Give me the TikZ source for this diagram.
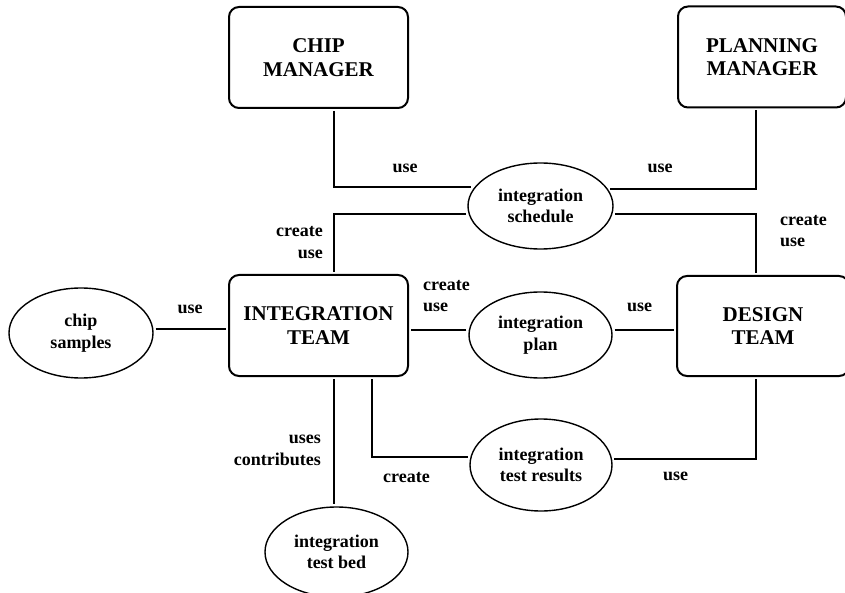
\documentclass[tikz,border=0pt]{standalone}
\usepackage{fontspec}
\setmainfont{Liberation Serif}
\usetikzlibrary{positioning,calc,shapes.geometric}
\newcommand{\bigfont}{\fontsize{21}{23.5}\selectfont\bfseries}
\newcommand{\smallfont}{\fontsize{18}{21.5}\selectfont\bfseries}

\begin{document}
\begin{tikzpicture}[x=1pt,y=-1pt,
    box/.style={draw, line width=2pt, rounded corners=10pt, minimum width=179pt, minimum height=101pt, align=center, font=\bigfont, outer sep=3pt},
    store/.style={draw, ellipse, line width=1.4pt, minimum width=144pt, minimum height=88pt, inner sep=0pt, align=center, font=\smallfont, outer sep=3pt},
    lbl/.style={font=\smallfont, inner sep=0pt},
    link/.style={line width=2pt}]
    \useasboundingbox (0,0) rectangle (845,593);
    % people
    \node[box] (chip) at (318.5,57.5) {CHIP\\MANAGER};
    \node[box, minimum width=168pt] (planmgr) at (762,57) {PLANNING\\MANAGER};
    \node[box] (team) at (318.5,325.5) {INTEGRATION\\TEAM};
    \node[box, minimum width=172pt, minimum height=100pt] (design) at (763,326) {DESIGN\\TEAM};
    % things
    \node[store, minimum width=145pt, minimum height=86pt] (sched) at (540.5,206) {integration\\schedule};
    \node[store, minimum height=90pt] (samples) at (81,333) {chip\\samples};
    \node[store, minimum width=143pt, minimum height=86pt] (intplan) at (540.5,335) {integration\\plan};
    \node[store, minimum width=142pt, minimum height=92pt] (results) at (541,465) {integration\\test results};
    \node[store, minimum width=143pt, minimum height=90pt] (testbed) at (336.5,552) {integration\\test bed};
    % connectors
    \draw[link] ([xshift=15.5pt]chip.south) |- (sched.165.5);
    \draw[link] (sched.186.1) -| ([xshift=15.5pt]team.north);
    \draw[link] ([xshift=-6pt]planmgr.south) |- (sched.14.5);
    \draw[link] (sched.-6.1) -| ([xshift=-7pt]design.north);
    \draw[link] (samples.3) -- (samples.3 -| team.west);
    \draw[link] (intplan.176) -- (intplan.176 -| team.east);
    \draw[link] (intplan.4) -- (intplan.4 -| design.west);
    \draw[link] ([xshift=53.5pt]team.south) |- (results.174.5);
    \draw[link] (results.5.5) -| ([xshift=-7pt]design.south);
    \draw[link] ([xshift=15.5pt]team.south) -- ([xshift=15.5pt]team.south |- testbed.north);
    % labels (base = last line)
    \node[lbl, anchor=base] (l1) at (405,173) {use};
    \node[lbl, anchor=base] (l2) at (660,173) {use};
    \node[lbl, anchor=base east, align=right] (l3) at (323,258.5) {create\\use};
    \node[lbl, anchor=base west, align=left] (l4) at (780,247) {create\\use};
    \node[lbl, anchor=base west, align=left] (l5) at (423,312) {create\\use};
    \node[lbl, anchor=base west] (l6) at (627,312) {use};
    \node[lbl, anchor=base] (l7) at (190,313) {use};
    \node[lbl, anchor=base east, align=right] (l8) at (321,465) {uses\\contributes};
    \node[lbl, anchor=base west] (l9) at (383,482) {create};
    \node[lbl, anchor=base west] (l10) at (663,480) {use};
\end{tikzpicture}
\end{document}
